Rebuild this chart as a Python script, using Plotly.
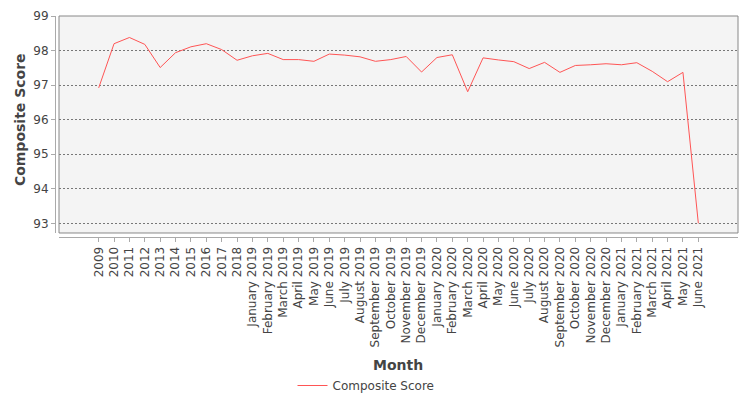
import plotly.graph_objects as go

# categories: yearly values first, then monthly
months = ["2009", "2010", "2011", "2012", "2013", "2014", "2015", "2016", "2017", "2018",
          "January 2019", "February 2019", "March 2019", "April 2019", "May 2019", "June 2019",
          "July 2019", "August 2019", "September 2019", "October 2019", "November 2019",
          "December 2019", "January 2020", "February 2020", "March 2020", "April 2020",
          "May 2020", "June 2020", "July 2020", "August 2020", "September 2020",
          "October 2020", "November 2020", "December 2020", "January 2021", "February 2021",
          "March 2021", "April 2021", "May 2021", "June 2021"]

composite_score = [96.92, 98.20, 98.38, 98.18, 97.51, 97.94, 98.11, 98.20, 98.03, 97.72,
                   97.85, 97.92, 97.74, 97.74, 97.69, 97.90, 97.87, 97.82, 97.69, 97.74,
                   97.83, 97.38, 97.80, 97.88, 96.81, 97.79, 97.73, 97.68, 97.48, 97.66,
                   97.37, 97.57, 97.59, 97.62, 97.59, 97.65, 97.40, 97.10, 97.37, 93.00]

y_ticks = [93, 94, 95, 96, 97, 98, 99]

idx = list(range(len(months)))

fig = go.Figure()
fig.add_trace(go.Scatter(x=idx, y=composite_score, mode="lines", name="Composite Score",
                         line=dict(color="#ff5555", width=1)))

# the page body adds an 8px offset, so the figure is 742x392
fig.update_layout(
    width=742, height=392,
    margin=dict(l=47, r=12, t=8, b=163, autoexpand=False),
    paper_bgcolor="white", plot_bgcolor="#f4f4f4",
    font=dict(family="DejaVu Sans", size=12, color="#444444"),
    showlegend=True,
    legend=dict(orientation="h", xref="container", yref="container",
                x=0.4825, xanchor="center", y=-0.003, yanchor="bottom",
                font=dict(size=12, color="#444444"), bgcolor="rgba(0,0,0,0)"),
    xaxis=dict(
        domain=[0.00586, 1], anchor="free", position=0, automargin=False,
        range=[-2.58, len(months) - 1 + 2.58],
        tickmode="array", tickvals=idx, ticktext=months, tickangle=-90,
        ticks="outside", ticklen=4, tickcolor="#aaaaaa",
        showline=True, linecolor="#aaaaaa", linewidth=1,
        showgrid=False, zeroline=False,
        tickfont=dict(size=12, color="#444444"),
    ),
    yaxis=dict(
        domain=[0.0181, 1], anchor="free", position=0, automargin=False,
        range=[92.72, 99.002],
        tickvals=y_ticks, ticklabeloverflow="allow",
        ticks="outside", ticklen=4, tickcolor="#aaaaaa",
        showline=True, linecolor="#aaaaaa", linewidth=1,
        showgrid=True, gridcolor="#777777", griddash="2px,2px", gridwidth=1,
        zeroline=False,
        tickfont=dict(size=12, color="#444444"),
    ),
)

# axis titles
fig.add_annotation(text="<b>Month</b>", xref="paper", yref="paper", x=0.502, y=-0.579,
                   xanchor="center", yanchor="middle", showarrow=False,
                   font=dict(size=14, color="#444444"))
fig.add_annotation(text="<b>Composite Score</b>", xref="paper", yref="paper", x=-0.0512, y=0.529,
                   xanchor="center", yanchor="middle", textangle=-90, showarrow=False,
                   font=dict(size=14, color="#444444"))

# plot border
fig.add_shape(type="rect", xref="x domain", yref="y domain", x0=0, x1=1, y0=0, y1=1,
              line=dict(color="#888888", width=1), fillcolor="rgba(0,0,0,0)", layer="above")

fig.write_html("out.html")
